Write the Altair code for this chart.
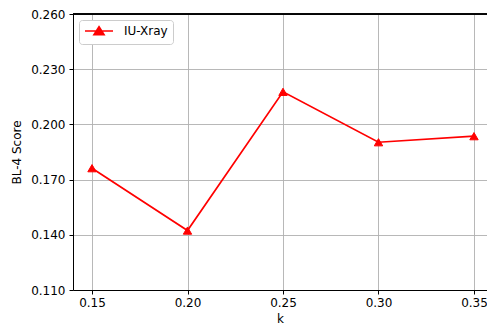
import altair as alt
import pandas as pd

k_values = [0.15, 0.20, 0.25, 0.30, 0.35]
bl4_scores = [0.1762, 0.1423, 0.2177, 0.1903, 0.1936]
series_names = ["IU-Xray"] * 5
x_ticks = [0.15, 0.20, 0.25, 0.30, 0.35]
y_ticks = [0.110, 0.140, 0.170, 0.200, 0.230, 0.260]

df = pd.DataFrame({"k": k_values, "score": bl4_scores, "series": series_names})

RED = "#ff0000"
FONT = "DejaVu Sans"

x = alt.X(
    "k:Q",
    scale=alt.Scale(domain=[0.14005, 0.35681], nice=False, zero=False),
    axis=alt.Axis(values=x_ticks, format=".2f", title="k", labelPadding=3, titlePadding=5),
)
y = alt.Y(
    "score:Q",
    scale=alt.Scale(domain=[0.11, 0.26], nice=False, zero=False),
    axis=alt.Axis(values=y_ticks, format=".3f", title="BL-4 Score", labelPadding=4, titlePadding=7),
)

legend_path = "M-1,0 L4.6,0 M1.8,-0.85 L2.8,0.75 L0.8,0.75 Z"

base = alt.Chart(df)
line = base.mark_line(color=RED, strokeWidth=1.7).encode(x=x, y=y)
points = base.mark_point(
    shape="triangle-up", filled=True, size=70, opacity=1, stroke=RED, strokeWidth=1
).encode(
    x=x,
    y=y,
    color=alt.Color(
        "series:N",
        scale=alt.Scale(range=[RED]),
        legend=alt.Legend(
            title=None,
            orient="top-left",
            offset=6,
            padding=5,
            cornerRadius=3,
            strokeColor="#cccccc",
            fillColor="white",
            symbolType=legend_path,
            symbolSize=100,
            symbolFillColor=RED,
            symbolStrokeColor=RED,
            symbolStrokeWidth=1.7,
            symbolOpacity=1,
            labelOffset=28,
            labelFont=FONT,
            labelFontSize=12,
            labelColor="black",
        ),
    ),
)
top_spine = base.mark_rule(color="black", strokeWidth=1).encode(y=alt.datum(0.26))

chart = (
    alt.layer(line, points, top_spine)
    .properties(
        width=414,
        height=276,
        autosize=alt.AutoSizeParams(type="none"),
        padding={"left": 65, "top": 6, "right": 0, "bottom": 35},
    )
    .configure_view(stroke=None)
    .configure_axis(
        grid=True,
        gridColor="#b0b0b0",
        gridWidth=0.9,
        domainColor="black",
        domainWidth=1,
        tickColor="black",
        tickSize=4,
        tickWidth=1,
        labelFont=FONT,
        labelFontSize=12,
        labelColor="black",
        titleFont=FONT,
        titleFontSize=12,
        titleFontWeight="normal",
        titleColor="black",
    )
)

chart.save("out.html", embed_options={"renderer": "svg", "actions": False})
